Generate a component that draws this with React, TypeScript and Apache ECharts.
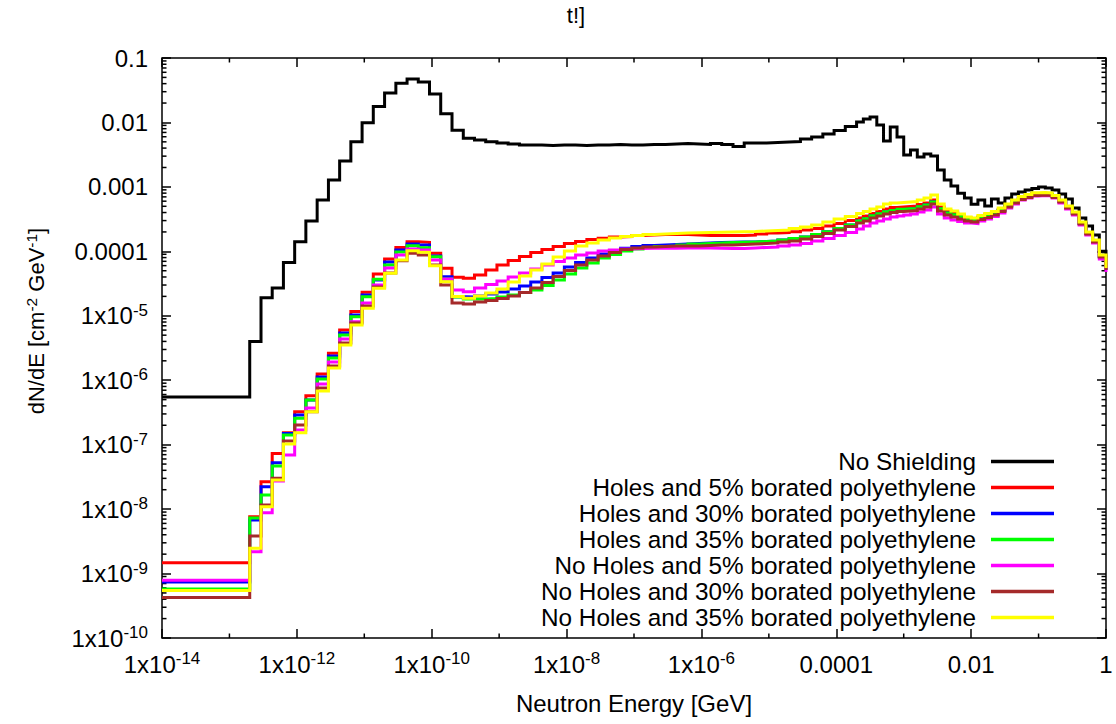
import React, { useEffect, useRef } from "react";
import * as echarts from "echarts";

const FONT = "'Liberation Sans', Arial, Helvetica, sans-serif";

// Bin edges (GeV): flat start, 1/6-decade bins, then 1/10-decade bins, end at 1 GeV
const energy = [
  1e-14,
  2e-13, 2.94e-13, 4.31e-13, 6.32e-13, 9.28e-13, 1.36e-12, 2e-12, 2.94e-12, 4.31e-12, 6.32e-12,
  9.28e-12, 1.36e-11, 2e-11, 2.94e-11, 4.31e-11, 6.32e-11, 9.28e-11, 1.36e-10, 2e-10, 2.94e-10,
  4.31e-10, 6.32e-10, 9.28e-10, 1.36e-9, 2e-9, 2.94e-9, 4.31e-9, 6.32e-9, 9.28e-9, 1.36e-8,
  2e-8, 2.94e-8, 4.31e-8, 6.32e-8, 9.28e-8, 1.36e-7, 2e-7, 2.94e-7, 4.31e-7, 6.32e-7,
  9.28e-7, 1.36e-6, 2e-6, 2.94e-6, 4.31e-6, 6.32e-6, 9.28e-6, 1.36e-5, 2e-5, 2.94e-5,
  4.31e-5, 6.32e-5, 9.28e-5, 1.36e-4, 2e-4,
  2.52e-4, 3.17e-4, 3.99e-4, 5.02e-4, 6.32e-4, 7.96e-4, 1.0e-3, 1.26e-3, 1.59e-3, 2e-3,
  2.52e-3, 3.17e-3, 3.99e-3, 5.02e-3, 6.32e-3, 7.96e-3, 1.0e-2, 1.26e-2, 1.59e-2, 2e-2,
  2.52e-2, 3.17e-2, 3.99e-2, 5.02e-2, 6.32e-2, 7.96e-2, 0.1, 0.126, 0.159, 0.2,
  0.252, 0.317, 0.399, 0.502, 0.632, 0.796,
  1,
];

const noShielding = [
  5.5e-7,
  4.0e-6, 1.91e-5, 2.7e-5, 6.7e-5, 1.41e-4, 2.96e-4, 6.26e-4, 1.28e-3, 2.52e-3, 5.0e-3,
  9.9e-3, 1.76e-2, 2.86e-2, 4.05e-2, 4.72e-2, 4.24e-2, 2.76e-2, 1.37e-2, 7.6e-3, 5.67e-3,
  5.34e-3, 5.0e-3, 4.8e-3, 4.63e-3, 4.47e-3, 4.47e-3, 4.39e-3, 4.47e-3, 4.47e-3, 4.39e-3,
  4.47e-3, 4.47e-3, 4.55e-3, 4.47e-3, 4.47e-3, 4.55e-3, 4.55e-3, 4.63e-3, 4.71e-3, 4.63e-3,
  4.55e-3, 4.71e-3, 4.55e-3, 4.23e-3, 4.8e-3, 4.8e-3, 4.89e-3, 4.97e-3, 5.06e-3, 5.53e-3,
  5.95e-3, 6.62e-3, 7.5e-3, 8.65e-3, 1.02e-2,
  1.13e-2, 1.21e-2, 9.1e-3, 5.15e-3, 8.5e-3, 5.95e-3, 3.13e-3, 3.74e-3, 2.91e-3, 3.24e-3,
  3.02e-3, 1.83e-3, 1.28e-3, 1.03e-3, 8.0e-4, 6.7e-4, 5.4e-4, 6.26e-4, 5.05e-4, 6.5e-4,
  5.6e-4, 6.7e-4, 7.75e-4, 8.3e-4, 8.95e-4, 9.45e-4, 9.96e-4, 9.6e-4, 8.95e-4, 7.75e-4,
  6.5e-4, 4.7e-4, 3.29e-4, 2.47e-4, 1.8e-4, 1.0e-4,
  8e-5,
];

const holes5 = [
  1.47e-9,
  7.6e-9, 2.66e-8, 7.3e-8, 1.53e-7, 3.24e-7, 5.75e-7, 1.25e-6, 2.62e-6, 6.0e-6, 1.16e-5,
  2.31e-5, 4.45e-5, 7.6e-5, 1.15e-4, 1.41e-4, 1.38e-4, 9.3e-5, 5.45e-5, 3.95e-5, 3.81e-5,
  4.29e-5, 5.13e-5, 6.13e-5, 7.2e-5, 8.3e-5, 9.6e-5, 1.07e-4, 1.19e-4, 1.32e-4, 1.42e-4,
  1.53e-4, 1.59e-4, 1.67e-4, 1.70e-4, 1.76e-4, 1.79e-4, 1.82e-4, 1.82e-4, 1.82e-4, 1.79e-4,
  1.76e-4, 1.76e-4, 1.76e-4, 1.76e-4, 1.79e-4, 1.86e-4, 1.92e-4, 1.96e-4, 2.02e-4, 2.14e-4,
  2.26e-4, 2.47e-4, 2.7e-4, 3.0e-4, 3.29e-4,
  3.53e-4, 3.86e-4, 4.15e-4, 4.54e-4, 4.79e-4, 4.87e-4, 4.96e-4, 5.05e-4, 5.33e-4, 5.62e-4,
  6.26e-4, 4.87e-4, 4.22e-4, 3.93e-4, 3.6e-4, 3.29e-4, 3.17e-4, 3.41e-4, 3.66e-4, 3.93e-4,
  4.46e-4, 5.23e-4, 6.04e-4, 6.84e-4, 7.35e-4, 7.89e-4, 7.95e-4, 7.75e-4, 7.22e-4, 6.04e-4,
  4.87e-4, 3.93e-4, 2.75e-4, 1.92e-4, 1.45e-4, 8.46e-5,
  5.3e-5,
];

const holes30 = [
  7.4e-10,
  6.8e-9, 2.23e-8, 5.25e-8, 1.49e-7, 2.88e-7, 4.93e-7, 1.12e-6, 2.37e-6, 5.4e-6, 1.03e-5,
  2.1e-5, 3.59e-5, 6.83e-5, 1.05e-4, 1.30e-4, 1.25e-4, 8.46e-5, 4.04e-5, 1.98e-5, 1.95e-5,
  2.03e-5, 2.18e-5, 2.34e-5, 2.6e-5, 2.9e-5, 3.34e-5, 3.93e-5, 4.61e-5, 5.71e-5, 6.71e-5,
  7.88e-5, 9.09e-5, 1.01e-4, 1.12e-4, 1.19e-4, 1.23e-4, 1.25e-4, 1.28e-4, 1.30e-4, 1.32e-4,
  1.35e-4, 1.37e-4, 1.38e-4, 1.39e-4, 1.40e-4, 1.42e-4, 1.45e-4, 1.50e-4, 1.58e-4, 1.67e-4,
  1.82e-4, 2.02e-4, 2.26e-4, 2.56e-4, 2.96e-4,
  3.17e-4, 3.53e-4, 3.8e-4, 4.08e-4, 4.3e-4, 4.46e-4, 4.54e-4, 4.62e-4, 4.87e-4, 5.23e-4,
  5.83e-4, 4.54e-4, 3.93e-4, 3.66e-4, 3.41e-4, 3.12e-4, 3.01e-4, 3.29e-4, 3.53e-4, 3.8e-4,
  4.3e-4, 5.05e-4, 5.83e-4, 6.6e-4, 7.09e-4, 7.62e-4, 7.75e-4, 7.62e-4, 7.09e-4, 5.93e-4,
  4.79e-4, 3.86e-4, 2.7e-4, 1.89e-4, 1.42e-4, 8.2e-5,
  5.13e-5,
];

const holes35 = [
  5.75e-10,
  7.27e-9, 1.66e-8, 4.66e-8, 1.41e-7, 2.56e-7, 4.93e-7, 1.04e-6, 2.21e-6, 5.03e-6, 9.67e-6,
  1.98e-5, 3.68e-5, 6.13e-5, 9.76e-5, 1.22e-4, 1.14e-4, 8.25e-5, 3.72e-5, 1.95e-5, 1.82e-5,
  1.82e-5, 1.86e-5, 1.95e-5, 2.1e-5, 2.3e-5, 2.51e-5, 2.95e-5, 3.59e-5, 4.45e-5, 5.51e-5,
  6.59e-5, 7.88e-5, 8.93e-5, 1.01e-4, 1.09e-4, 1.15e-4, 1.19e-4, 1.21e-4, 1.25e-4, 1.30e-4,
  1.32e-4, 1.35e-4, 1.37e-4, 1.38e-4, 1.40e-4, 1.42e-4, 1.45e-4, 1.50e-4, 1.58e-4, 1.67e-4,
  1.82e-4, 2.02e-4, 2.26e-4, 2.56e-4, 2.96e-4,
  3.2e-4, 3.55e-4, 3.82e-4, 4.1e-4, 4.32e-4, 4.48e-4, 4.56e-4, 4.64e-4, 4.9e-4, 5.25e-4,
  5.85e-4, 4.56e-4, 3.95e-4, 3.68e-4, 3.43e-4, 3.14e-4, 3.03e-4, 3.31e-4, 3.55e-4, 3.82e-4,
  4.32e-4, 5.07e-4, 5.85e-4, 6.62e-4, 7.11e-4, 7.64e-4, 7.77e-4, 7.64e-4, 7.11e-4, 5.95e-4,
  4.81e-4, 3.88e-4, 2.72e-4, 1.9e-4, 1.43e-4, 8.3e-5,
  5.2e-5,
];

const noHoles5 = [
  7.9e-10,
  2.18e-9, 8.8e-9, 2.73e-8, 6.9e-8, 1.69e-7, 3.7e-7, 8.7e-7, 1.92e-6, 4.36e-6, 8.1e-6,
  1.58e-5, 3.0e-5, 5.51e-5, 8.77e-5, 1.09e-4, 1.05e-4, 7.33e-5, 3.72e-5, 2.51e-5, 2.37e-5,
  2.7e-5, 3.06e-5, 3.46e-5, 4.0e-5, 4.61e-5, 5.32e-5, 6.13e-5, 6.95e-5, 7.88e-5, 8.77e-5,
  9.42e-5, 1.01e-4, 1.05e-4, 1.09e-4, 1.11e-4, 1.12e-4, 1.12e-4, 1.12e-4, 1.13e-4, 1.14e-4,
  1.13e-4, 1.12e-4, 1.11e-4, 1.11e-4, 1.13e-4, 1.15e-4, 1.17e-4, 1.21e-4, 1.25e-4, 1.32e-4,
  1.45e-4, 1.58e-4, 1.76e-4, 1.96e-4, 2.22e-4,
  2.47e-4, 2.75e-4, 2.96e-4, 3.17e-4, 3.41e-4, 3.53e-4, 3.66e-4, 3.8e-4, 4.08e-4, 4.38e-4,
  4.87e-4, 3.8e-4, 3.29e-4, 3.06e-4, 2.9e-4, 2.75e-4, 2.7e-4, 2.96e-4, 3.17e-4, 3.47e-4,
  3.93e-4, 4.7e-4, 5.43e-4, 6.26e-4, 6.72e-4, 7.22e-4, 7.35e-4, 7.22e-4, 6.72e-4, 5.62e-4,
  4.54e-4, 3.66e-4, 2.56e-4, 1.79e-4, 1.35e-4, 7.6e-5,
  4.78e-5,
];

const noHoles30 = [
  4.25e-10,
  3.82e-9, 1.16e-8, 3.0e-8, 1.14e-7, 2.02e-7, 3.24e-7, 7.57e-7, 1.66e-6, 3.78e-6, 7.72e-6,
  1.42e-5, 2.8e-5, 4.61e-5, 7.15e-5, 9.32e-5, 8.77e-5, 6.13e-5, 3.0e-5, 1.58e-5, 1.52e-5,
  1.64e-5, 1.72e-5, 1.86e-5, 2.03e-5, 2.3e-5, 2.7e-5, 3.28e-5, 4.07e-5, 5.04e-5, 6.13e-5,
  7.33e-5, 8.46e-5, 9.6e-5, 1.07e-4, 1.13e-4, 1.17e-4, 1.19e-4, 1.21e-4, 1.21e-4, 1.21e-4,
  1.23e-4, 1.25e-4, 1.25e-4, 1.28e-4, 1.30e-4, 1.32e-4, 1.35e-4, 1.40e-4, 1.45e-4, 1.55e-4,
  1.70e-4, 1.89e-4, 2.14e-4, 2.42e-4, 2.75e-4,
  2.96e-4, 3.29e-4, 3.53e-4, 3.8e-4, 4.0e-4, 4.15e-4, 4.22e-4, 4.3e-4, 4.54e-4, 4.87e-4,
  5.43e-4, 4.22e-4, 3.66e-4, 3.41e-4, 3.17e-4, 2.96e-4, 2.85e-4, 3.12e-4, 3.35e-4, 3.66e-4,
  4.15e-4, 4.87e-4, 5.62e-4, 6.38e-4, 6.84e-4, 7.35e-4, 7.48e-4, 7.35e-4, 6.84e-4, 5.83e-4,
  4.7e-4, 3.8e-4, 2.65e-4, 1.86e-4, 1.40e-4, 8.2e-5,
  5.13e-5,
];

const noHoles35 = [
  5.45e-10,
  2.46e-9, 1.09e-8, 2.83e-8, 1.02e-7, 1.53e-7, 3.24e-7, 6.8e-7, 1.55e-6, 3.52e-6, 7.2e-6,
  1.31e-5, 2.67e-5, 4.56e-5, 7.33e-5, 1.02e-4, 9.66e-5, 5.98e-5, 3.38e-5, 1.99e-5, 1.87e-5,
  2.03e-5, 2.26e-5, 2.6e-5, 3.34e-5, 4.14e-5, 5.13e-5, 6.36e-5, 8.16e-5, 1.01e-4, 1.21e-4,
  1.35e-4, 1.50e-4, 1.61e-4, 1.70e-4, 1.76e-4, 1.82e-4, 1.86e-4, 1.89e-4, 1.92e-4, 1.94e-4,
  1.96e-4, 1.97e-4, 1.99e-4, 2.02e-4, 2.03e-4, 2.07e-4, 2.1e-4, 2.14e-4, 2.26e-4, 2.38e-4,
  2.56e-4, 2.85e-4, 3.17e-4, 3.47e-4, 3.86e-4,
  4.15e-4, 4.54e-4, 4.87e-4, 5.43e-4, 5.62e-4, 5.73e-4, 5.83e-4, 5.93e-4, 6.26e-4, 6.72e-4,
  7.48e-4, 5.43e-4, 4.54e-4, 4.22e-4, 3.8e-4, 3.41e-4, 3.29e-4, 3.6e-4, 3.86e-4, 4.15e-4,
  4.7e-4, 5.43e-4, 6.26e-4, 7.09e-4, 7.62e-4, 8.12e-4, 8.18e-4, 8.04e-4, 7.35e-4, 6.26e-4,
  5.05e-4, 4.08e-4, 2.85e-4, 1.99e-4, 1.50e-4, 8.77e-5,
  5.5e-5,
];

const seriesNames = [
  "No Shielding",
  "Holes and 5% borated polyethylene",
  "Holes and 30% borated polyethylene",
  "Holes and 35% borated polyethylene",
  "No Holes and 5% borated polyethylene",
  "No Holes and 30% borated polyethylene",
  "No Holes and 35% borated polyethylene",
];
const seriesValues = [noShielding, holes5, holes30, holes35, noHoles5, noHoles30, noHoles35];
const seriesColors = ["#000000", "#ff0000", "#0000ff", "#00ff00", "#ff00ff", "#a52a2a", "#ffff00"];

const thermalLine = 2.5e-11;

const X_MIN = 1e-14;
const X_MAX = 1;
const Y_MIN = 1e-10;
const Y_MAX = 0.1;

// minor tick positions
const xMinorTicks = [1e-13, 1e-11, 1e-9, 1e-7, 1e-5, 1e-3, 1e-1];
const yMinorTicks: number[] = [];
for (let e = -10; e < -1; e++) {
  for (let m = 2; m <= 9; m++) yMinorTicks.push(m * Math.pow(10, e));
}

const rich: any = {
  b: { fontSize: 24, fontFamily: FONT, color: "#000", lineHeight: 28 },
  s: { fontSize: 17, fontFamily: FONT, color: "#000", lineHeight: 14, verticalAlign: "top" },
};

const nameRich: any = {
  b: { fontSize: 22, fontFamily: FONT, color: "#000", lineHeight: 26 },
  s: { fontSize: 15.5, fontFamily: FONT, color: "#000", lineHeight: 13, verticalAlign: "top" },
};

const fmt = (v: number) => {
  const e = Math.round(Math.log10(v));
  if (e >= -4) {
    const t = e === 0 ? "1" : "0." + "0".repeat(-e - 1) + "1";
    return "{b|" + t + "}";
  }
  return "{b|1x10}{s|" + e + "}";
};

export default function App() {
  const ref = useRef<HTMLDivElement>(null);
  useEffect(() => {
    if (!ref.current) return;
    const chart = echarts.init(ref.current, null, { renderer: "svg" });

    const lineSeries = seriesNames.map((name, i) => ({
      name,
      type: "line",
      step: "end",
      xAxisIndex: 0,
      yAxisIndex: 0,
      symbol: "none",
      showSymbol: false,
      silent: true,
      itemStyle: { color: seriesColors[i] },
      lineStyle: { color: seriesColors[i], width: 3, join: "miter" },
      data: energy.map((e, k) => [e, seriesValues[i][k]]),
      ...(i === 0
        ? {
            markLine: {
              silent: true,
              symbol: ["none", "none"],
              label: { show: false },
              lineStyle: { color: "#000", width: 1.5, type: "solid" },
              data: [{ xAxis: thermalLine }],
            },
          }
        : {}),
    }));

    const tickStyle = { stroke: "#000", lineWidth: 1.5 };

    const option: any = {
      animation: false,
      color: seriesColors,
      grid: {
        left: 162,
        right: 10,
        top: 58,
        bottom: 86,
        show: true,
        borderColor: "#000",
        borderWidth: 1.5,
        backgroundColor: "transparent",
      },
      xAxis: [
        {
          type: "log",
          logBase: 10,
          min: X_MIN,
          max: X_MAX,
          interval: 2,
          position: "bottom",
          axisLine: { show: false },
          axisTick: { show: true, inside: true, length: 9, lineStyle: { color: "#000", width: 1.5 } },
          minorTick: { show: false },
          splitLine: { show: false },
          axisLabel: { show: true, margin: 12, formatter: fmt, rich, showMinLabel: true, showMaxLabel: true },
        },
        {
          type: "log",
          logBase: 10,
          min: X_MIN,
          max: X_MAX,
          interval: 2,
          position: "top",
          axisLine: { show: false },
          axisTick: { show: true, inside: true, length: 9, lineStyle: { color: "#000", width: 1.5 } },
          splitLine: { show: false },
          axisLabel: { show: false },
        },
      ],
      yAxis: [
        {
          type: "log",
          logBase: 10,
          min: Y_MIN,
          max: Y_MAX,
          interval: 1,
          position: "left",
          axisLine: { show: false },
          axisTick: { show: true, inside: true, length: 9, lineStyle: { color: "#000", width: 1.5 } },
          splitLine: { show: false },
          axisLabel: { show: true, margin: 14, formatter: fmt, rich, showMinLabel: true, showMaxLabel: true },
        },
        {
          type: "log",
          logBase: 10,
          min: Y_MIN,
          max: Y_MAX,
          interval: 1,
          position: "right",
          axisLine: { show: false },
          axisTick: { show: true, inside: true, length: 9, lineStyle: { color: "#000", width: 1.5 } },
          splitLine: { show: false },
          axisLabel: { show: false },
        },
      ],
      legend: {
        data: seriesNames,
        orient: "vertical",
        align: "right",
        right: 57,
        top: 444.5,
        itemWidth: 63,
        itemHeight: 3.5,
        itemGap: 2,
        icon: "rect",
        selectedMode: false,
        textStyle: { fontSize: 24.3, fontFamily: FONT, color: "#000", padding: [0, 10, 0, 0] },
      },
      graphic: [
        {
          type: "text",
          x: 576,
          y: 15,
          style: { text: "t!]", fontSize: 22, fontFamily: FONT, fill: "#000", align: "center", verticalAlign: "middle" },
        },
        {
          type: "text",
          x: 634,
          y: 703,
          style: {
            text: "Neutron Energy [GeV]",
            fontSize: 24,
            fontFamily: FONT,
            fill: "#000",
            align: "center",
            verticalAlign: "middle",
          },
        },
        {
          type: "text",
          x: 36,
          y: 321,
          rotation: Math.PI / 2,
          style: {
            text: "{b|dN/dE [cm}{s|-2}{b| GeV}{s|-1}{b|]}",
            rich: nameRich,
            align: "center",
            verticalAlign: "middle",
          },
        },
      ],
      series: [
        ...lineSeries,
        {
          type: "custom",
          name: "yMinor",
          silent: true,
          xAxisIndex: 0,
          yAxisIndex: 0,
          data: yMinorTicks.map((v) => [X_MIN, v]),
          renderItem: (params: any, api: any) => {
            const cs = params.coordSys;
            const p = api.coord([X_MIN, api.value(1)]);
            const y = p[1];
            const x0 = cs.x;
            const x1 = cs.x + cs.width;
            return {
              type: "group",
              children: [
                { type: "line", shape: { x1: x0, y1: y, x2: x0 + 4.5, y2: y }, style: tickStyle },
                { type: "line", shape: { x1: x1 - 4.5, y1: y, x2: x1, y2: y }, style: tickStyle },
              ],
            };
          },
        },
        {
          type: "custom",
          name: "xMinor",
          silent: true,
          xAxisIndex: 0,
          yAxisIndex: 0,
          data: xMinorTicks.map((v) => [v, Y_MIN]),
          renderItem: (params: any, api: any) => {
            const cs = params.coordSys;
            const p = api.coord([api.value(0), Y_MIN]);
            const x = p[0];
            const y0 = cs.y;
            const y1 = cs.y + cs.height;
            return {
              type: "group",
              children: [
                { type: "line", shape: { x1: x, y1: y1, x2: x, y2: y1 - 4.5 }, style: tickStyle },
                { type: "line", shape: { x1: x, y1: y0, x2: x, y2: y0 + 4.5 }, style: tickStyle },
              ],
            };
          },
        },
      ],
    };

    chart.setOption(option);
    return () => chart.dispose();
  }, []);

  return (
    <div
      ref={ref}
      style={{ position: "absolute", left: 0, top: 0, width: 1116, height: 724, background: "#fff" }}
    />
  );
}
